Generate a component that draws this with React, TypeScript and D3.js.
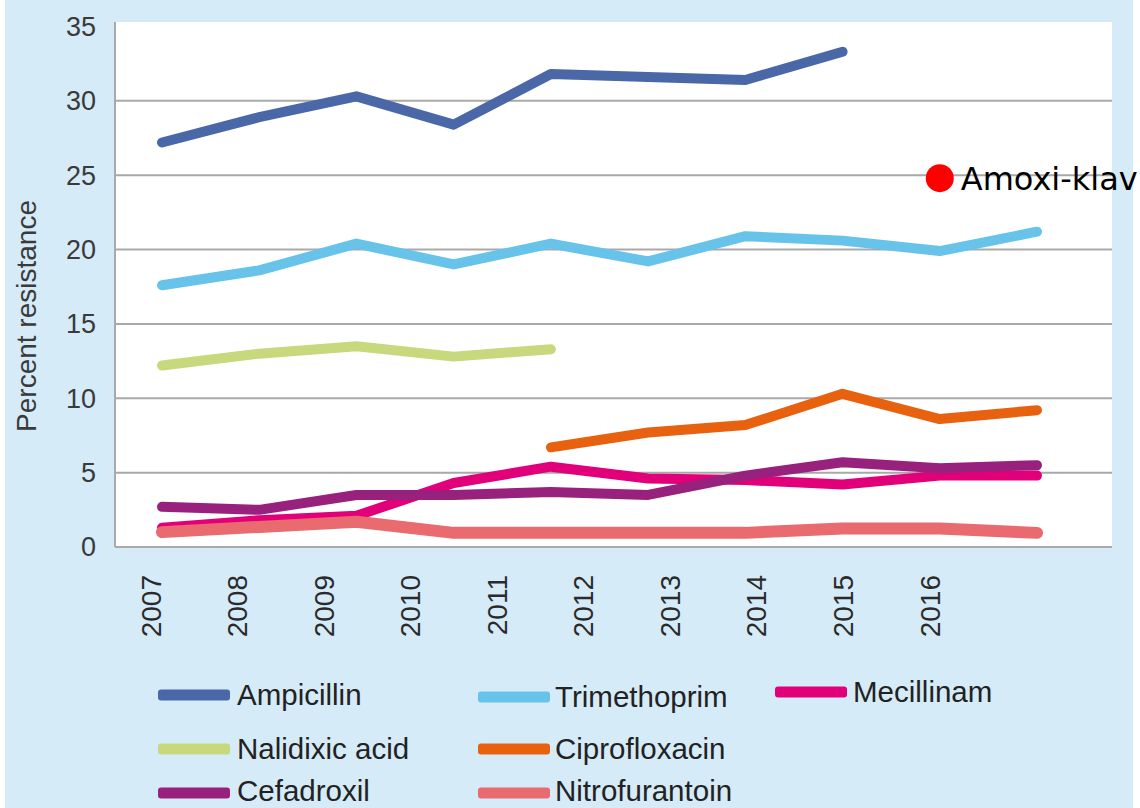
import React from "react";
import * as d3 from "d3";

const years = ["2007", "2008", "2009", "2010", "2011", "2012", "2013", "2014", "2015", "2016"];
const yTicks = [0, 5, 10, 15, 20, 25, 30, 35];

const ampicillin = [27.2, 28.9, 30.3, 28.4, 31.8, 31.6, 31.4, 33.3, null, null];
const trimethoprim = [17.6, 18.6, 20.4, 19.0, 20.4, 19.2, 20.9, 20.6, 19.9, 21.2];
const mecillinam = [1.3, 1.8, 2.1, 4.3, 5.4, 4.6, 4.5, 4.2, 4.8, 4.8];
const nalidixic = [12.2, 13.0, 13.5, 12.8, 13.3, null, null, null, null, null];
const ciprofloxacin = [null, null, null, null, 6.7, 7.7, 8.2, 10.3, 8.6, 9.2];
const cefadroxil = [2.7, 2.5, 3.5, 3.5, 3.7, 3.5, 4.8, 5.7, 5.3, 5.5];
const nitrofurantoin = [1.0, 1.35, 1.7, 0.95, 0.95, 0.95, 0.95, 1.25, 1.25, 0.95];

const seriesNames = ["Ampicillin", "Trimethoprim", "Mecillinam", "Nalidixic acid", "Ciprofloxacin", "Cefadroxil", "Nitrofurantoin"];
const seriesValues = [ampicillin, trimethoprim, mecillinam, nalidixic, ciprofloxacin, cefadroxil, nitrofurantoin];
const seriesColors = ["#4a67a8", "#68c3ea", "#e2007a", "#c8d87c", "#e8610e", "#98217d", "#e96a6f"];

const amoxiKlavLabel = "Amoxi-klav";
const amoxiKlavIndex = 8;
const amoxiKlavValue = 24.8;

export default function App() {
  const W = 1140, H = 808;
  const plot = { left: 115, right: 1112, top: 22, bottom: 547 };

  const idx = d3.range(years.length);
  const xData = d3.scalePoint<number>().domain(idx).range([162, 1037]);
  const xLabel = d3.scalePoint<string>().domain(years).range([151, 930]);
  const y = d3.scaleLinear().domain([0, 35.3]).range([plot.bottom, plot.top]);

  const line = d3
    .line<number | null>()
    .defined((d) => d !== null)
    .x((_, i) => xData(i) as number)
    .y((d) => y(d as number));

  const legendCols = [
    { sx: 158, tx: 237 },
    { sx: 478, tx: 555 },
    { sx: 775, tx: 853 },
  ];
  const legendLayout = [
    { col: 0, row: 0, dy: 0 },
    { col: 1, row: 0, dy: 2 },
    { col: 2, row: 0, dy: -3 },
    { col: 0, row: 1, dy: 0 },
    { col: 1, row: 1, dy: 0 },
    { col: 0, row: 2, dy: 0 },
    { col: 1, row: 2, dy: 0 },
  ];
  const rowY = [695, 749, 793];

  return (
    <svg
      width={W}
      height={H}
      style={{ position: "absolute", left: 0, top: 0, fontFamily: "'Liberation Sans', Arial, sans-serif" }}
    >
      <rect x={0} y={0} width={W} height={H} fill="#ffffff" />
      <rect x={5} y={0} width={1128} height={H} fill="#d5ebf8" />
      <rect x={plot.left} y={plot.top} width={plot.right - plot.left} height={plot.bottom - plot.top} fill="#ffffff" />

      {yTicks.filter((t) => t > 0 && t < 35).map((t) => (
        <line key={t} x1={plot.left} x2={plot.right} y1={y(t)} y2={y(t)} stroke="#a9a9a9" strokeWidth={2} />
      ))}
      <line x1={plot.left} x2={plot.left} y1={plot.top} y2={plot.bottom} stroke="#a9a9a9" strokeWidth={2} />
      <line x1={plot.left} x2={plot.right} y1={plot.bottom} y2={plot.bottom} stroke="#a9a9a9" strokeWidth={2} />

      {yTicks.map((t) => (
        <text key={t} x={96} y={y(t)} dy="0.35em" textAnchor="end" fontSize={27} fill="#3a3a3a">
          {t}
        </text>
      ))}
      <text
        transform={`translate(26,316) rotate(-90)`}
        textAnchor="middle"
        dominantBaseline="central"
        fontSize={28}
        fill="#3a3a3a"
      >
        Percent resistance
      </text>

      {years.map((yr) => (
        <text
          key={yr}
          transform={`translate(${xLabel(yr)},575) rotate(-90)`}
          textAnchor="end"
          dominantBaseline="central"
          fontSize={28}
          fill="#2a2a2a"
        >
          {yr}
        </text>
      ))}

      {seriesValues.map((vals, i) => (
        <path
          key={seriesNames[i]}
          d={line(vals) || ""}
          fill="none"
          stroke={seriesColors[i]}
          strokeWidth={i === 6 ? 12 : 10}
          strokeLinecap="round"
          strokeLinejoin="round"
        />
      ))}

      <circle cx={xData(amoxiKlavIndex)} cy={y(amoxiKlavValue)} r={14} fill="#ff0000" />
      <text
        x={(xData(amoxiKlavIndex) as number) + 21}
        y={y(amoxiKlavValue)}
        dy="0.36em"
        fontSize={32}
        fill="#000000"
        fontFamily="'DejaVu Sans', Verdana, sans-serif"
      >
        {amoxiKlavLabel}
      </text>

      {seriesNames.map((name, i) => {
        const L = legendLayout[i];
        const c = legendCols[L.col];
        const cy = rowY[L.row] + L.dy;
        return (
          <g key={name}>
            <rect x={c.sx} y={cy - 5.5} width={72} height={11} rx={3} fill={seriesColors[i]} />
            <text x={c.tx} y={cy + (L.row === 2 ? 8 : 10)} fontSize={29.5} fill="#222222">
              {name}
            </text>
          </g>
        );
      })}
    </svg>
  );
}
